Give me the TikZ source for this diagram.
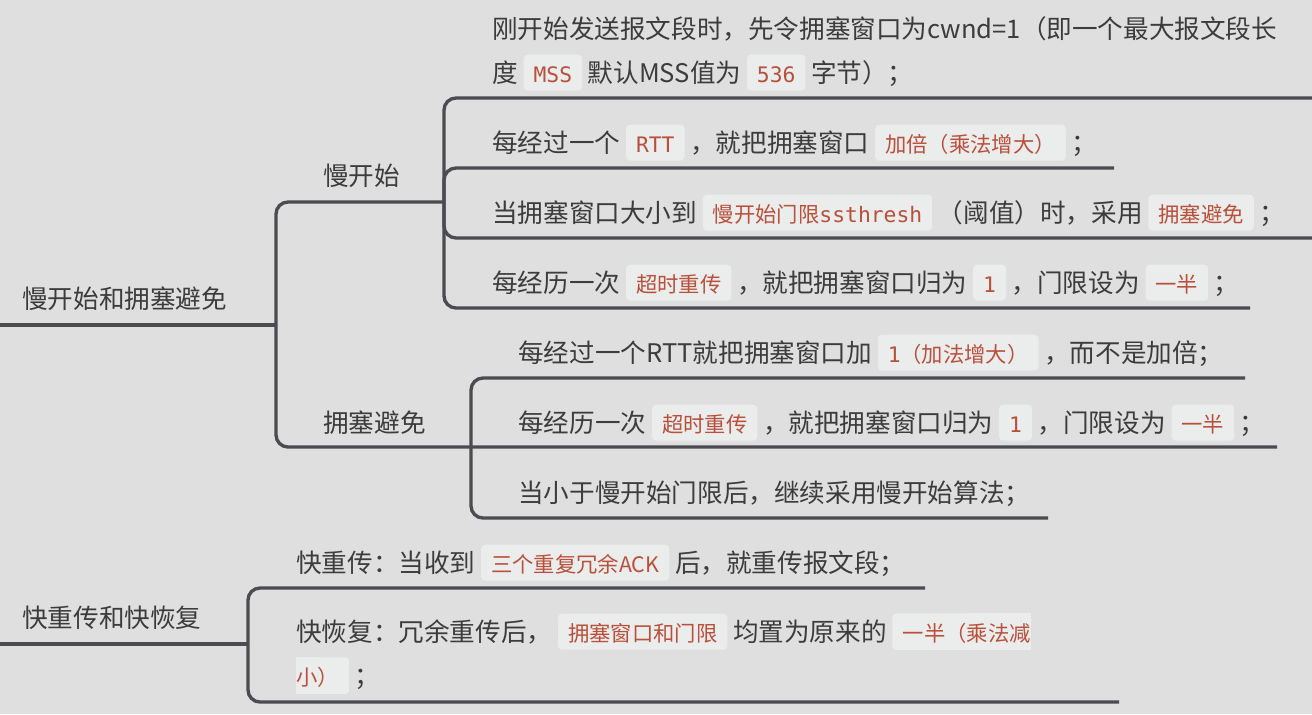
\documentclass[tikz,border=0pt]{standalone}
\usepackage{fontspec}
\setmainfont{Noto Sans CJK SC}
\setmonofont{DejaVu Sans Mono}
\usepackage{tikz}

\definecolor{bgcol}{HTML}{DFDFDF}
\definecolor{linecol}{HTML}{4B4B50}
\definecolor{txtcol}{HTML}{3C3C3C}
\definecolor{codebg}{HTML}{EBECEC}
\definecolor{codered}{HTML}{B9503B}

\tikzset{
  branch/.style={draw=linecol, line width=2.5pt, rounded corners=9pt},
  txt/.style={anchor=base west, inner sep=0pt, align=left, text=txtcol,
    font=\fontsize{19.2}{33}\selectfont},
  codetext/.style={anchor=base, inner xsep=7.5pt, inner ysep=5.5pt,
    text height=15pt, text depth=1pt, text=codered, align=center,
    font=\fontsize{16}{16}\selectfont},
}

% inline code boxes
\newcommand\code[1]{\tikz[baseline=(c.base)]{%
  \node[codetext, fill=codebg, rounded corners=3pt] (c) {#1};}}
\newcommand\codeL[1]{\tikz[baseline=(c.base)]{%
  \node[codetext] (c) {\phantom{#1}};
  \fill[codebg, rounded corners=3pt] (c.south west) rectangle ([xshift=-7.5pt]c.north east);
  \fill[codebg] (c.south) rectangle ([xshift=-7.5pt]c.north east);
  \node[codetext] at (c.base) {#1};}}
\newcommand\codeR[1]{\tikz[baseline=(c.base)]{%
  \node[codetext] (c) {\phantom{#1}};
  \fill[codebg, rounded corners=3pt] ([xshift=7.5pt]c.south west) rectangle (c.north east);
  \fill[codebg] ([xshift=7.5pt]c.south west) rectangle (c.north);
  \node[codetext] at (c.base) {#1};}}

\begin{document}
\begin{tikzpicture}[x=0.75pt,y=0.75pt,yscale=-1,xscale=1]

  \useasboundingbox (0,0) rectangle (1312,714);
  \fill[bgcol] (0,0) rectangle (1312,714);

  % Junctions and line ends
  \coordinate (r1s) at (0,325);
  \coordinate (j1) at (276,325);
  \coordinate (j2) at (444,202);
  \coordinate (j3) at (471,447);
  \coordinate (s1) at (1312,98);
  \coordinate (s2) at (1114,168);
  \coordinate (s3) at (1312,238);
  \coordinate (s4) at (1250,308);
  \coordinate (a1) at (1245,378);
  \coordinate (a2) at (1277,447);
  \coordinate (a3) at (1048,518);
  \coordinate (r2s) at (0,644);
  \coordinate (j4) at (248,644);
  \coordinate (f1) at (925,588);
  \coordinate (f2) at (1119,702);

  % Branches
  \draw[branch] (r1s) -- (j1);
  \draw[branch] (j1) |- (j2);
  \draw[branch] (j1) |- (j3) -- (a2);
  \foreach \e in {s1,s2,s3,s4}
    \draw[branch] (j2) |- (\e);
  \draw[branch] (j3) |- (a1);
  \draw[branch] (j3) |- (a3);
  \draw[branch] (r2s) -- (j4);
  \draw[branch] (j4) |- (f1);
  \draw[branch] (j4) |- (f2);

  % Labels
  \node[txt] (root1) at (22,308) {慢开始和拥塞避免};
  \node[txt] (slow) at (323,185) {慢开始};
  \node[txt] (avoid) at (323,432) {拥塞避免};
  \node[txt] (root2) at (22,627) {快重传和快恢复};

  % Slow start (two-line nodes sit on their last line)
  \node[txt] (ss1) at (492,82) {刚开始发送报文段时，先令拥塞窗口为cwnd=1（即一个最大报文段长\\
    度 \code{\ttfamily MSS} 默认MSS值为 \code{\ttfamily 536} 字节）；};
  \node[txt] (ss2) at (492,152) {每经过一个 \code{\ttfamily RTT} ，就把拥塞窗口 \code{加倍（乘法增大）} ；};
  \node[txt] (ss3) at (492,222) {当拥塞窗口大小到 \code{慢开始门限{\ttfamily ssthresh}} （阈值）时，采用 \code{拥塞避免} ；};
  \node[txt] (ss4) at (492,292) {每经历一次 \code{超时重传} ，就把拥塞窗口归为 \code{\ttfamily 1} ，门限设为 \code{一半} ；};

  % Congestion avoidance
  \node[txt] (ca1) at (518,362) {每经过一个RTT就把拥塞窗口加 \code{{\ttfamily 1}（加法增大）} ，而不是加倍；};
  \node[txt] (ca2) at (518,432) {每经历一次 \code{超时重传} ，就把拥塞窗口归为 \code{\ttfamily 1} ，门限设为 \code{一半} ；};
  \node[txt] (ca3) at (518,502) {当小于慢开始门限后，继续采用慢开始算法；};

  % Fast retransmit / recovery
  \node[txt] (fr1) at (296,572) {快重传：当收到 \code{三个重复冗余ACK} 后，就重传报文段；};
  \node[txt] (fr2) at (296,685) {快恢复：冗余重传后， \code{拥塞窗口和门限} 均置为原来的 \codeL{一半（乘法减}\\
    \hspace*{-7.5pt}\codeR{小）} ；};

\end{tikzpicture}
\end{document}
